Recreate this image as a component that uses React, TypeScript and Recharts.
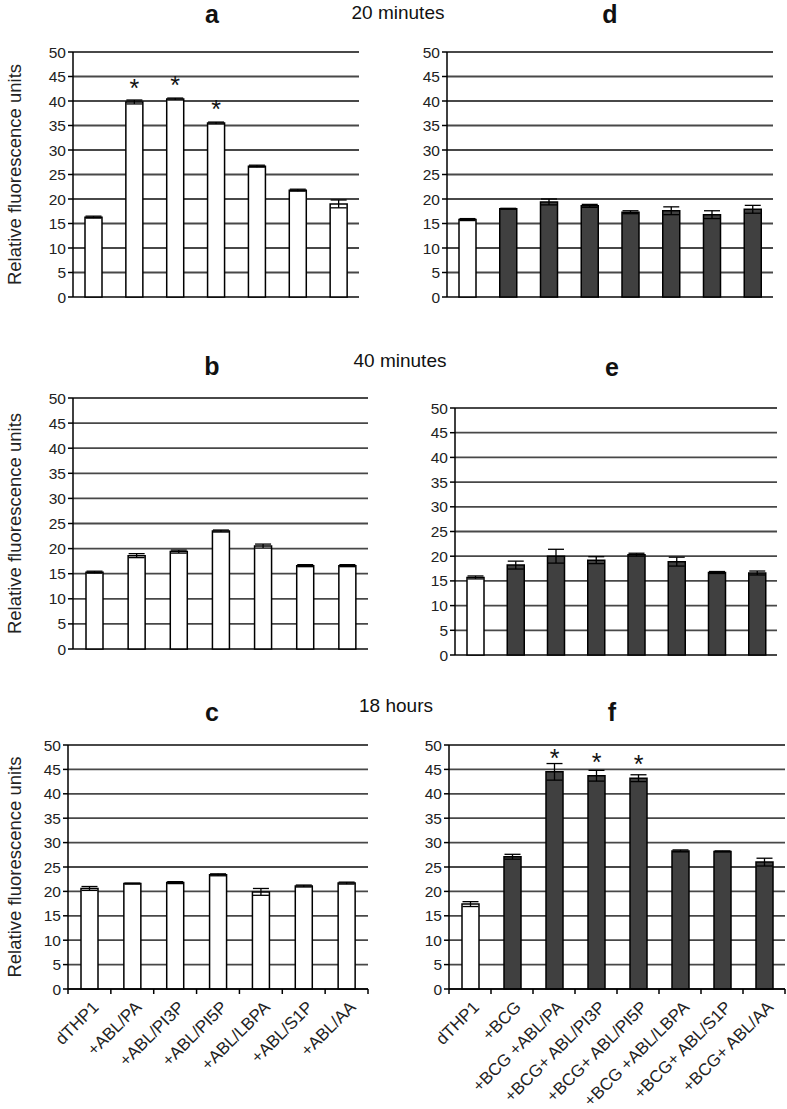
import React from 'react';
import { BarChart, Bar, XAxis, YAxis, CartesianGrid, ErrorBar, Cell, LabelList } from 'recharts';

const FONT = '"Liberation Sans", Arial, sans-serif';

const ablLabels = ['dTHP1', '+ABL/PA', '+ABL/PI3P', '+ABL/PI5P', '+ABL/LBPA', '+ABL/S1P', '+ABL/AA'];
const bcgLabels = ['dTHP1', '+BCG', '+BCG +ABL/PA', '+BCG+ ABL/PI3P', '+BCG+ ABL/PI5P', '+BCG +ABL/LBPA', '+BCG+ ABL/S1P', '+BCG+ ABL/AA'];
const yTicks = [0, 5, 10, 15, 20, 25, 30, 35, 40, 45, 50];

// 20 minutes
const aValues = [16.3, 39.8, 40.4, 35.5, 26.7, 21.8, 19.0];
const aErrors = [0.2, 0.4, 0.2, 0.2, 0.2, 0.2, 0.8];
const aStars = ['', '*', '*', '*', '', '', ''];
const dValues = [15.8, 18.0, 19.4, 18.6, 17.3, 17.6, 16.8, 17.9];
const dErrors = [0.2, 0.1, 0.6, 0.3, 0.3, 0.8, 0.8, 0.8];

// 40 minutes
const bValues = [15.3, 18.6, 19.4, 23.5, 20.5, 16.6, 16.6];
const bErrors = [0.2, 0.4, 0.3, 0.2, 0.4, 0.2, 0.2];
const eValues = [15.7, 18.2, 20.0, 19.2, 20.3, 18.9, 16.7, 16.6];
const eErrors = [0.3, 0.8, 1.4, 0.7, 0.3, 0.9, 0.2, 0.4];

// 18 hours
const cValues = [20.6, 21.6, 21.8, 23.4, 19.9, 21.1, 21.7];
const cErrors = [0.4, 0.1, 0.2, 0.2, 0.7, 0.2, 0.2];
const fValues = [17.4, 27.1, 44.5, 43.7, 43.2, 28.3, 28.2, 26.0];
const fErrors = [0.5, 0.5, 1.7, 1.1, 0.7, 0.2, 0.1, 0.8];
const fStars = ['', '', '*', '*', '*', '', '', ''];

const buildRows = (labels: string[], values: number[], errors: number[], stars?: string[]) =>
  labels.map((name, i) => ({ name, value: values[i], err: errors[i], star: stars ? stars[i] : '' }));

const Star = (props: any) => {
  const { x, y, width, value } = props;
  if (!value) return null;
  return (
    <text x={x + width / 2} y={y - 5} textAnchor="middle" fontSize={25} fontFamily={FONT} fill="#111">
      {value}
    </text>
  );
};

interface PanelProps {
  rows: { name: string; value: number; err: number; star: string }[];
  left: number;
  axisX: number;
  plotTop: number;
  zero: number;
  right: number;
  yLabel?: boolean;
  xLabels?: boolean;
  dark?: boolean;
}

function Panel({ rows, left, axisX, plotTop, zero, right, yLabel, xLabels, dark }: PanelProps) {
  const top = plotTop - 12;
  const yw = 40;
  const ml = axisX - left - yw;
  const width = right - left + 10;
  const height = zero - top + (xLabels ? 120 : 8);
  const band = (right - axisX) / rows.length;

  const XTick = (props: any) => {
    const { x, y, payload, index } = props;
    return (
      <g>
        <line x1={x - band / 2} y1={y} x2={x - band / 2} y2={y + 5} stroke="#000" strokeWidth={1.5} />
        {index === rows.length - 1 && (
          <line x1={x + band / 2} y1={y} x2={x + band / 2} y2={y + 5} stroke="#000" strokeWidth={1.5} />
        )}
        <text
          x={0}
          y={0}
          transform={`translate(${x + 6},${y + 15}) rotate(-45)`}
          textAnchor="end"
          dy="0.35em"
          fontSize={17}
          fontFamily={FONT}
          fill="#222"
        >
          {payload.value}
        </text>
      </g>
    );
  };

  return (
    <div style={{ position: 'absolute', left, top }}>
      <BarChart
        width={width}
        height={height}
        data={rows}
        margin={{ top: 12, right: 10, left: ml, bottom: xLabels ? 5 : 8 }}
      >
        <CartesianGrid vertical={false} stroke="#484848" strokeWidth={1.8} />
        {xLabels ? (
          <XAxis
            dataKey="name"
            interval={0}
            height={115}
            axisLine={{ stroke: '#000', strokeWidth: 1.5 }}
            tickLine={false}
            tickSize={0}
            tickMargin={0}
            tick={<XTick />}
          />
        ) : (
          <XAxis dataKey="name" hide />
        )}
        <YAxis
          width={yw}
          domain={[0, 50]}
          ticks={yTicks}
          interval={0}
          axisLine={{ stroke: '#000', strokeWidth: 1.5 }}
          tickLine={{ stroke: '#000', strokeWidth: 1.5 }}
          tickSize={5}
          tick={{ fontSize: 15.5, fontFamily: FONT, fill: '#222' }}
          label={
            yLabel
              ? {
                  value: 'Relative fluorescence units',
                  angle: -90,
                  position: 'left',
                  offset: ml - 14,
                  style: { textAnchor: 'middle', fontSize: 18.5, fontFamily: FONT, fill: '#222' },
                }
              : undefined
          }
        />
        <Bar dataKey="value" barSize={17} stroke="#000" strokeWidth={1.5} isAnimationActive={false}>
          {rows.map((r, i) => (
            <Cell key={r.name} fill={dark && i > 0 ? '#404040' : '#fff'} />
          ))}
          <ErrorBar dataKey="err" width={8} stroke="#000" strokeWidth={1.3} />
          <LabelList dataKey="star" content={<Star />} />
        </Bar>
      </BarChart>
    </div>
  );
}

const Title = ({ text, x, y, bold }: { text: string; x: number; y: number; bold?: boolean }) => (
  <div
    style={{
      position: 'absolute',
      left: x - 100,
      top: y,
      width: 200,
      textAlign: 'center',
      fontFamily: FONT,
      fontSize: bold ? 25 : 19,
      fontWeight: bold ? 'bold' : 'normal',
      color: '#111',
      lineHeight: 1,
    }}
  >
    {text}
  </div>
);

export default function App() {
  return (
    <div style={{ position: 'absolute', left: 0, top: 0, width: 787, height: 1109, background: '#fff' }}>
      <Title text="a" x={212} y={2} bold />
      <Title text="20 minutes" x={398} y={3} />
      <Title text="d" x={610} y={2} bold />
      <Panel rows={buildRows(ablLabels, aValues, aErrors, aStars)} left={0} axisX={73} plotTop={52} zero={297} right={359} yLabel />
      <Panel rows={buildRows(bcgLabels, dValues, dErrors)} left={385} axisX={447} plotTop={52} zero={297} right={773} dark />

      <Title text="b" x={212} y={354} bold />
      <Title text="40 minutes" x={400} y={351} />
      <Title text="e" x={612} y={355} bold />
      <Panel rows={buildRows(ablLabels, bValues, bErrors)} left={0} axisX={73} plotTop={398} zero={649} right={368} yLabel />
      <Panel rows={buildRows(bcgLabels, eValues, eErrors)} left={385} axisX={455} plotTop={408} zero={655} right={777} dark />

      <Title text="c" x={212} y={700} bold />
      <Title text="18 hours" x={396} y={696} />
      <Title text="f" x={612} y={700} bold />
      <Panel rows={buildRows(ablLabels, cValues, cErrors)} left={0} axisX={68} plotTop={745} zero={989} right={368} yLabel xLabels />
      <Panel rows={buildRows(bcgLabels, fValues, fErrors, fStars)} left={385} axisX={449} plotTop={745} zero={989} right={785} xLabels dark />
    </div>
  );
}
